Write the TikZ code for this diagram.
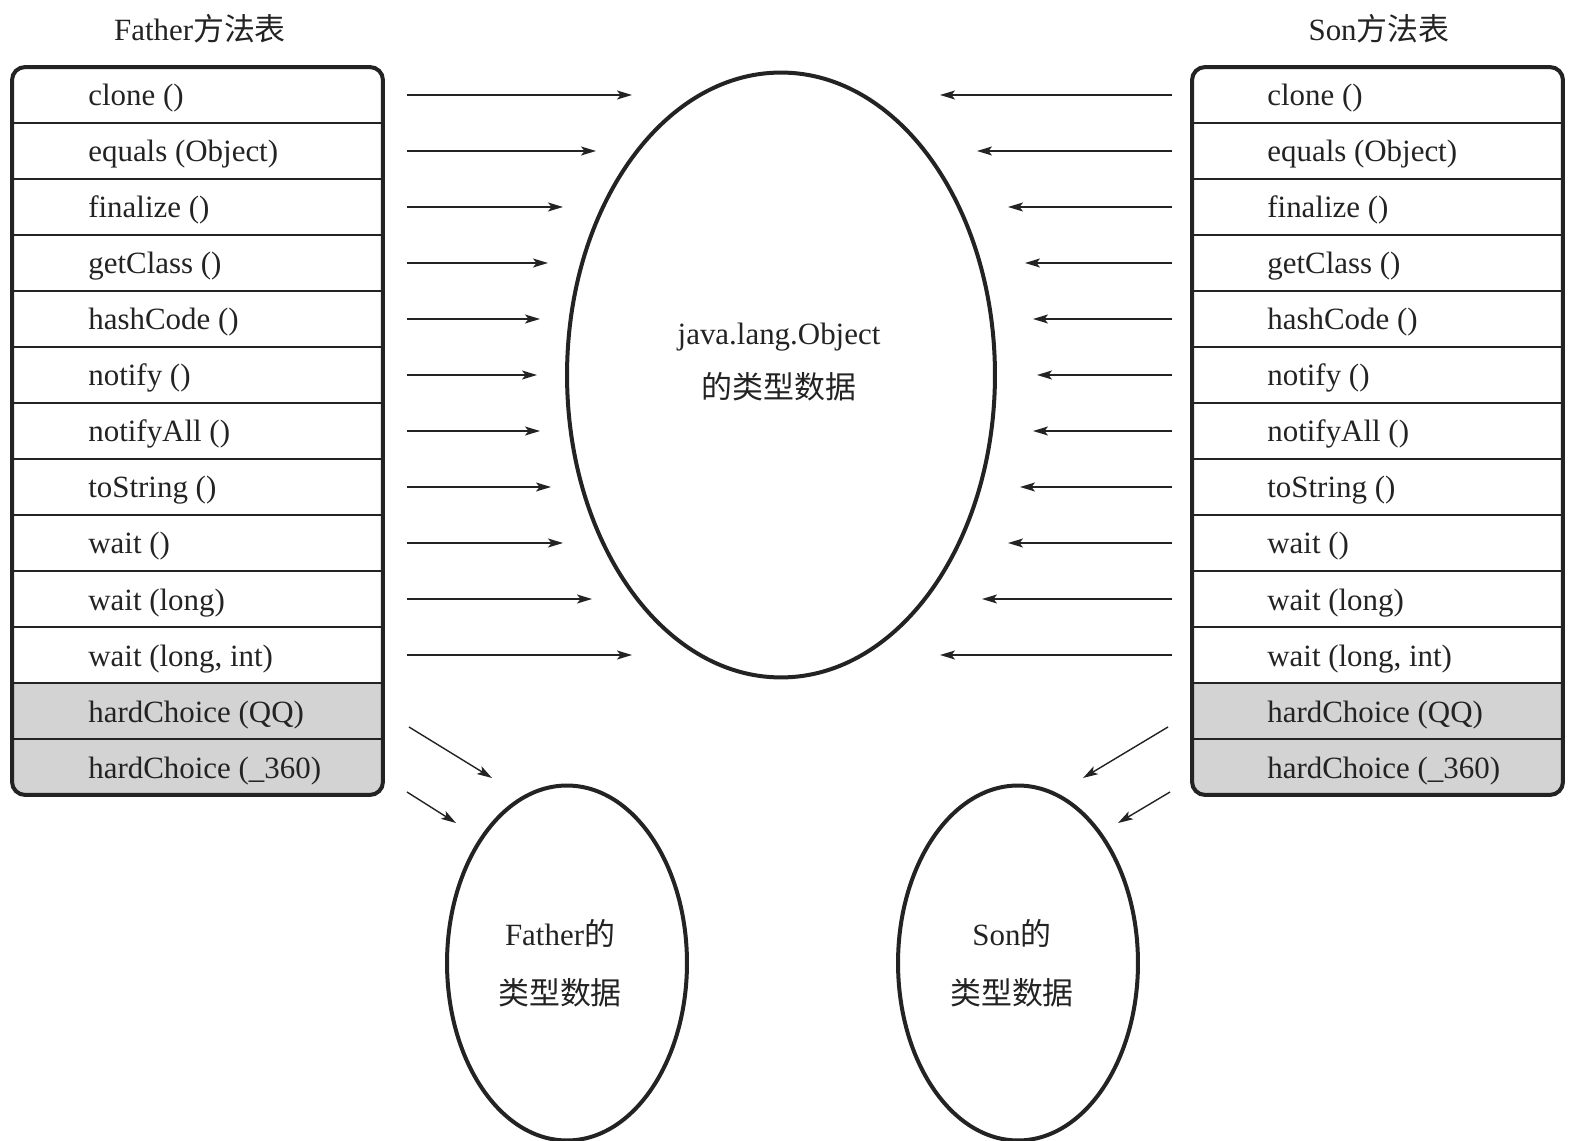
\documentclass[tikz,border=0pt]{standalone}
\usepackage{fontspec}
\setmainfont{Liberation Serif}
\newfontfamily\cjk{Noto Sans CJK SC}
\usetikzlibrary{shapes.geometric,arrows.meta}
\definecolor{ink}{RGB}{35,35,35}
\definecolor{rowgray}{RGB}{211,211,211}
\tikzset{
  rowbox/.style={draw=ink, line width=0.04cm, minimum width=7.42cm, minimum height=1.12cm, inner sep=0pt, outer sep=0pt},
  grayrow/.style={rowbox, fill=rowgray},
  lbl/.style={text=ink, anchor=base west, inner sep=0pt},
  ctxt/.style={text=ink, anchor=base, inner sep=0pt},
  tframe/.style={draw=ink, line width=0.08cm, rounded corners=0.26cm, minimum width=7.42cm, minimum height=14.56cm, inner sep=0pt, outer sep=0pt},
  ell/.style={draw=ink, ellipse, line width=0.08cm, inner sep=0pt},
  arr/.style={draw=ink, line width=0.028cm, -{Stealth[length=0.3cm,width=0.18cm,inset=0.07cm]}}
}
\begin{document}
\begin{tikzpicture}[x=0.02cm,y=-0.02cm, font=\fontsize{17.6}{20}\selectfont]
\useasboundingbox[fill=white] (0,0) rectangle (1571,1141);

% titles
\node[ctxt] (ltitle) at (200,41) {Father{\cjk 方法表}};
\node[ctxt] (rtitle) at (1379,41) {Son{\cjk 方法表}};

% left table
\begin{scope}
\clip[rounded corners=0.26cm] (12,67) rectangle (383,795);
\foreach \t [count=\i] in {clone (), equals (Object), finalize (), getClass (), hashCode (), notify (), notifyAll (), toString (), wait (), wait (long), {wait (long, int)}} {
  \node[rowbox] (L\i) at (197.5,{39+56*\i}) {};
  \node[lbl] (LT\i) at (88,{50+56*\i}) {\t};
}
\node[grayrow] (L12) at (197.5,711) {};
\node[lbl] (LT12) at (88,722) {hardChoice (QQ)};
\node[grayrow] (L13) at (197.5,767) {};
\node[lbl] (LT13) at (88,778) {hardChoice (\_360)};
\end{scope}
\node[tframe] (Lframe) at (197.5,431) {};

% right table
\begin{scope}
\clip[rounded corners=0.26cm] (1192,67) rectangle (1563,795);
\foreach \t [count=\i] in {clone (), equals (Object), finalize (), getClass (), hashCode (), notify (), notifyAll (), toString (), wait (), wait (long), {wait (long, int)}} {
  \node[rowbox] (R\i) at (1377.5,{39+56*\i}) {};
  \node[lbl] (RT\i) at (1267,{50+56*\i}) {\t};
}
\node[grayrow] (R12) at (1377.5,711) {};
\node[lbl] (RT12) at (1267,722) {hardChoice (QQ)};
\node[grayrow] (R13) at (1377.5,767) {};
\node[lbl] (RT13) at (1267,778) {hardChoice (\_360)};
\end{scope}
\node[tframe] (Rframe) at (1377.5,431) {};

% ellipses
\node[ell, minimum width=8.56cm, minimum height=12.1cm] (obj) at (781,375) {};
\node[ctxt] (objt1) at (779,345) {java.lang.Object};
\node[ctxt] (objt2) at (779,399) {\cjk 的类型数据};

\node[ell, minimum width=4.8cm, minimum height=7.1cm] (fat) at (567,963) {};
\node[ctxt] (fatt1) at (560,945) {Father{\cjk 的}};
\node[ctxt] (fatt2) at (560,1004) {\cjk 类型数据};

\node[ell, minimum width=4.8cm, minimum height=7.1cm] (son) at (1018,963) {};
\node[ctxt] (sont1) at (1012,945) {Son{\cjk 的}};
\node[ctxt] (sont2) at (1012,1004) {\cjk 类型数据};

% horizontal arrows
\foreach \tip [count=\i] in {632,596,563,548,540,537,540,551,563,592,632} {
  \coordinate (al\i) at (\tip,{39+56*\i});
  \draw[arr, shorten <=0.48cm] (L\i.east) -- (al\i);
}
\foreach \tip [count=\i] in {940,977,1008,1025,1033,1037,1033,1020,1008,982,940} {
  \coordinate (ar\i) at (\tip,{39+56*\i});
  \draw[arr, shorten <=0.4cm] (R\i.west) -- (ar\i);
}

% diagonal arrows
\coordinate (dl1s) at (409,727); \coordinate (dl1e) at (492,778);
\coordinate (dl2s) at (407,792); \coordinate (dl2e) at (456,823);
\coordinate (dr1s) at (1168,727); \coordinate (dr1e) at (1083,778);
\coordinate (dr2s) at (1170,792); \coordinate (dr2e) at (1118,823);
\draw[arr] (dl1s) -- (dl1e);
\draw[arr] (dl2s) -- (dl2e);
\draw[arr] (dr1s) -- (dr1e);
\draw[arr] (dr2s) -- (dr2e);
\end{tikzpicture}
\end{document}
